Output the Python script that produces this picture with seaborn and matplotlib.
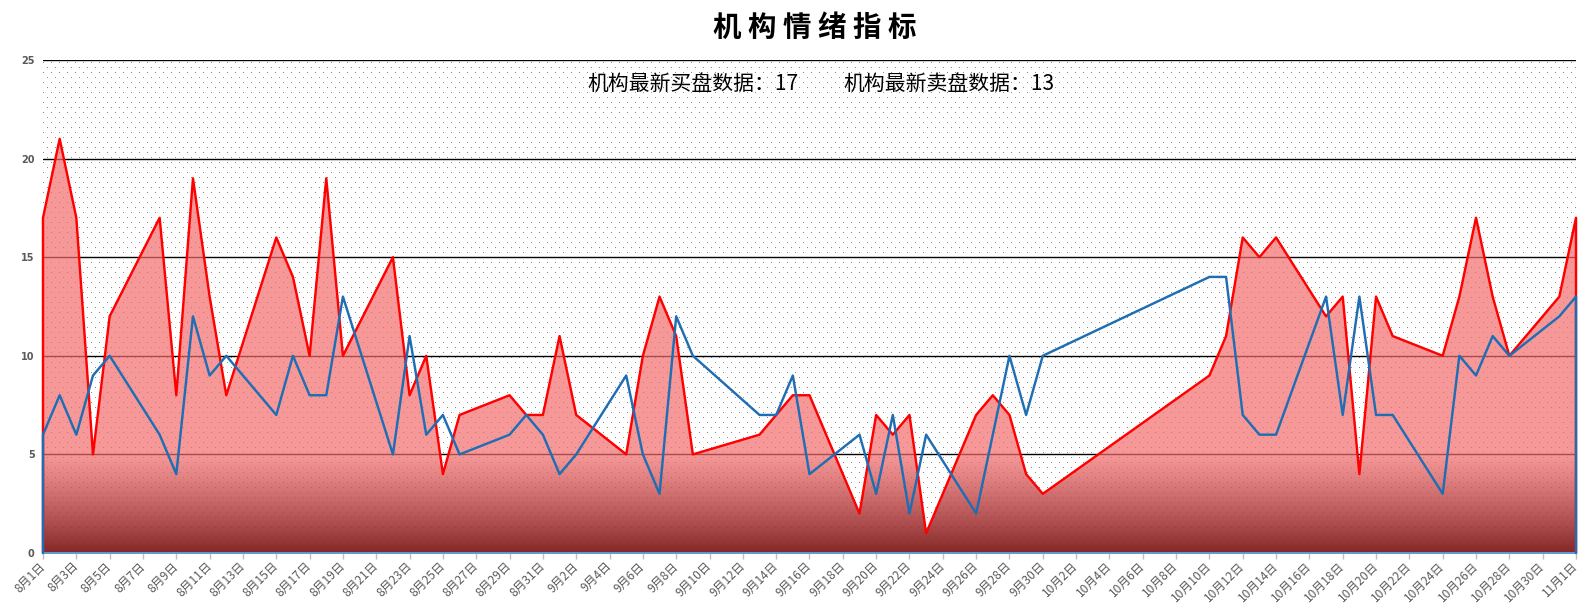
import numpy as np
import pandas as pd
import matplotlib
matplotlib.use("Agg")
import matplotlib.pyplot as plt
import matplotlib.dates as mdates
import seaborn as sns

# ---------------- data ----------------
trade_dates = [
    "2022-08-01", "2022-08-02", "2022-08-03", "2022-08-04", "2022-08-05",
    "2022-08-08", "2022-08-09", "2022-08-10", "2022-08-11", "2022-08-12",
    "2022-08-15", "2022-08-16", "2022-08-17", "2022-08-18", "2022-08-19",
    "2022-08-22", "2022-08-23", "2022-08-24", "2022-08-25", "2022-08-26",
    "2022-08-29", "2022-08-30", "2022-08-31",
    "2022-09-01", "2022-09-02",
    "2022-09-05", "2022-09-06", "2022-09-07", "2022-09-08", "2022-09-09",
    "2022-09-13", "2022-09-14", "2022-09-15", "2022-09-16",
    "2022-09-19", "2022-09-20", "2022-09-21", "2022-09-22", "2022-09-23",
    "2022-09-26", "2022-09-27", "2022-09-28", "2022-09-29", "2022-09-30",
    "2022-10-10", "2022-10-11", "2022-10-12", "2022-10-13", "2022-10-14",
    "2022-10-17", "2022-10-18", "2022-10-19", "2022-10-20", "2022-10-21",
    "2022-10-24", "2022-10-25", "2022-10-26", "2022-10-27", "2022-10-28",
    "2022-10-31", "2022-11-01",
]
buy = [
    17, 21, 17, 5, 12, 17, 8, 19, 13, 8, 16, 14, 10, 19, 10, 15, 8, 10, 4, 7, 8, 7, 7,
    11, 7, 5, 10, 13, 11, 5, 6, 7, 8, 8, 2, 7, 6, 7, 1, 7, 8, 7, 4, 3,
    9, 11, 16, 15, 16, 12, 13, 4, 13, 11, 10, 13, 17, 13, 10, 13, 17,
]
sell = [
    6, 8, 6, 9, 10, 6, 4, 12, 9, 10, 7, 10, 8, 8, 13, 5, 11, 6, 7, 5, 6, 7, 6,
    4, 5, 9, 5, 3, 12, 10, 7, 7, 9, 4, 6, 3, 7, 2, 6, 2, 6, 10, 7, 10,
    14, 14, 7, 6, 6, 13, 7, 13, 7, 7, 3, 10, 9, 11, 10, 12, 13,
]
axis_start, axis_end = "2022-08-01", "2022-11-01"
y_ticks = [0, 5, 10, 15, 20, 25]
title_text = "机 构 情 绪 指 标"
latest_buy_text = "机构最新买盘数据：17"
latest_sell_text = "机构最新卖盘数据：13"

# ---------------- style ----------------
sns.set_style("white")
plt.rcParams["font.family"] = ["Noto Sans CJK SC", "DejaVu Sans"]

W, H = 1593, 605
fig = plt.figure(figsize=(W / 100, H / 100), dpi=100)
L, R, T, B = 43, 1576, 60, 553
ax = fig.add_axes([L / W, (H - B) / H, (R - L) / W, (B - T) / H])
ax.set_facecolor("none")

# dotted background pattern (pixel exact)
ph, pw = B - T, R - L
pat = np.zeros((ph, pw, 4))
rows = np.arange(ph)[:, None]
cols = np.arange(pw)[None, :]
mask = ((rows % 10 == 2) & (cols % 8 == 0)) | ((rows % 10 == 7) & (cols % 8 == 4))
pat[mask] = [0.55, 0.55, 0.55, 1.0]
fig.figimage(pat, xo=L, yo=H - B, origin="upper", zorder=-1)

dates = pd.to_datetime(trade_dates)
x0, x1 = pd.Timestamp(axis_start), pd.Timestamp(axis_end)

# gradient area fill under buy series
poly = ax.fill_between(dates, 0, buy, facecolor="none", edgecolor="none")
n = 600
vals = np.linspace(0, 25, n)
grad = np.zeros((n, 1, 4))
top = np.array([244, 108, 108, 0.70 * 255]) / 255
bot = np.array([128, 30, 30, 0.96 * 255]) / 255
for i, v in enumerate(vals):
    t = min(v / 5.0, 1.0)
    grad[i, 0] = bot + (top - bot) * t
im = ax.imshow(grad, extent=[mdates.date2num(x0), mdates.date2num(x1), 0, 25],
               origin="lower", aspect="auto", zorder=1.5, interpolation="bilinear")
im.set_clip_path(poly.get_paths()[0], transform=ax.transData)

# outlines (areas closed down to the baseline at both ends)
df_buy = pd.DataFrame({"date": [dates[0]] + list(dates) + [dates[-1]],
                       "v": [0] + buy + [0]})
df_sell = pd.DataFrame({"date": [dates[0]] + list(dates) + [dates[-1]],
                        "v": [0] + sell + [0]})
sns.lineplot(data=df_buy, x="date", y="v", sort=False, estimator=None,
             color="#FF0000", lw=1.75, ax=ax, zorder=2.6, clip_on=False)
sns.lineplot(data=df_sell, x="date", y="v", sort=False, estimator=None,
             color="#1F6EB4", lw=1.75, ax=ax, zorder=2.8, clip_on=False)

ax.set_xlim(x0, x1)
ax.set_ylim(0, 25)
ax.set_xlabel("")
ax.set_ylabel("")

# grid
ax.set_yticks(y_ticks)
ax.yaxis.grid(True, color="black", lw=1.0, zorder=0.5)
ax.xaxis.grid(False)
ax.set_axisbelow(True)

# x ticks
tick_dates = pd.date_range(x0, x1, freq="2D")
ax.set_xticks(tick_dates)
ax.set_xticklabels([f"{d.month}月{d.day}日" for d in tick_dates],
                   rotation=45, ha="right", va="center", rotation_mode="anchor",
                   fontsize=8.6, color="#595959")
ax.tick_params(axis="x", length=4, width=1, color="#BFBFBF", pad=4, direction="out",
               bottom=True)
ax.set_yticklabels([str(v) for v in y_ticks], fontsize=7, fontweight="bold",
                   color="#595959", family="DejaVu Sans")
ax.tick_params(axis="y", length=0, pad=6)

for s in ["left", "right", "top"]:
    ax.spines[s].set_visible(False)
ax.spines["bottom"].set_color("#5B9BD5")
ax.spines["bottom"].set_linewidth(1.4)
ax.spines["bottom"].set_zorder(2.7)

# titles
fig.text(815 / W, 1 - 28 / H, title_text, ha="center", va="center",
         fontsize=20.5, fontweight="bold", color="black")
fig.text(799 / W, 1 - 84 / H, latest_buy_text, ha="right", va="center",
         fontsize=15, color="black")
fig.text(843 / W, 1 - 84 / H, latest_sell_text, ha="left", va="center",
         fontsize=15, color="black")

fig.savefig("out.png", dpi=100)
